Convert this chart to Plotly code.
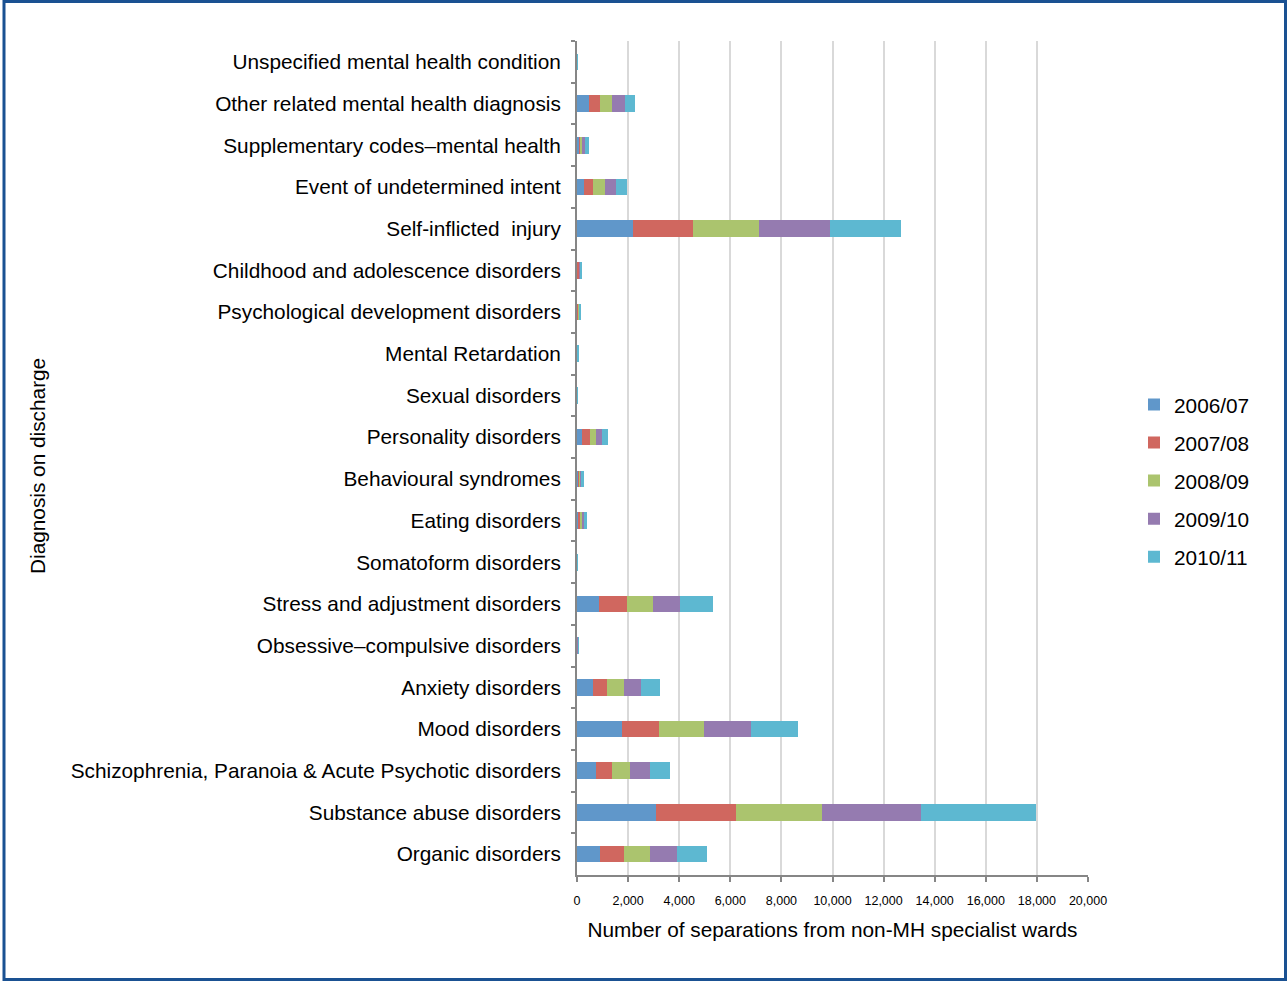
import plotly.graph_objects as go

categories = [
    "Unspecified mental health condition",
    "Other related mental health diagnosis",
    "Supplementary codes–mental health",
    "Event of undetermined intent",
    "Self-inflicted  injury",
    "Childhood and adolescence disorders",
    "Psychological development disorders",
    "Mental Retardation",
    "Sexual disorders",
    "Personality disorders",
    "Behavioural syndromes",
    "Eating disorders",
    "Somatoform disorders",
    "Stress and adjustment disorders",
    "Obsessive–compulsive disorders",
    "Anxiety disorders",
    "Mood disorders",
    "Schizophrenia, Paranoia & Acute Psychotic disorders",
    "Substance abuse disorders",
    "Organic disorders",
]

years = ["2006/07", "2007/08", "2008/09", "2009/10", "2010/11"]

v_2006_07 = [1, 470, 80, 290, 2200, 20, 20, 8, 1, 200, 40, 60, 1, 865, 10, 630, 1765, 730, 3100, 890]
v_2007_08 = [1, 420, 40, 330, 2340, 60, 25, 8, 1, 300, 50, 70, 1, 1085, 10, 560, 1450, 640, 3110, 955]
v_2008_09 = [1, 495, 90, 495, 2600, 35, 35, 8, 1, 260, 50, 75, 1, 1005, 10, 640, 1765, 705, 3385, 1005]
v_2009_10 = [1, 495, 105, 405, 2745, 35, 30, 8, 1, 220, 55, 85, 1, 1085, 10, 680, 1815, 770, 3870, 1070]
v_2010_11 = [1, 405, 145, 445, 2785, 45, 35, 8, 1, 235, 65, 90, 1, 1270, 10, 745, 1855, 810, 4510, 1150]

series = [v_2006_07, v_2007_08, v_2008_09, v_2009_10, v_2010_11]
colors = ["#6097CA", "#D0675F", "#ABC46E", "#957BB0", "#5DB8D1"]

FONT = "Liberation Sans, Arial, sans-serif"

fig = go.Figure()
for i, (name, vals) in enumerate(zip(years, series)):
    fig.add_trace(go.Bar(
        y=categories, x=vals, name=name, orientation="h",
        marker=dict(color=colors[i], line=dict(width=0)),
        legendgroup=name,
    ))

W, H = 1287, 981
L, R, T, B = 577, 1088, 41, 875


def px_x(p):
    return (p - L) / (R - L)


def px_y(p):
    return (B - p) / (B - T)


fig.update_layout(
    width=W, height=H,
    margin=dict(l=L, r=W - R, t=T, b=H - B),
    barmode="stack",
    bargap=0.6,
    paper_bgcolor="white",
    plot_bgcolor="white",
    font=dict(family=FONT, size=20.8, color="#000000"),
    showlegend=True,
    legend=dict(
        x=px_x(1134), xanchor="left",
        y=px_y(481), yanchor="middle",
        traceorder="grouped",
        tracegroupgap=8,
        font=dict(size=20.8),
        bgcolor="rgba(0,0,0,0)",
    ),
    xaxis=dict(
        range=[0, 20000],
        tickvals=list(range(0, 20001, 2000)),
        tickformat=",",
        tickfont=dict(size=12.5),
        showgrid=True, gridcolor="#D9D9D9", gridwidth=2,
        zeroline=False,
        showline=True, linecolor="#868686", linewidth=2,
        ticks="outside", ticklen=5, tickwidth=2, tickcolor="#868686",
        ticklabelstandoff=8,
        title=dict(text="Number of separations from non-MH specialist wards",
                   font=dict(size=20.8), standoff=15),
    ),
    yaxis=dict(
        autorange="reversed",
        showline=True, linecolor="#868686", linewidth=2,
        ticks="outside", ticklen=4, tickwidth=2, tickcolor="#868686",
        tickson="boundaries",
        showgrid=False,
        tickfont=dict(size=20.8),
        ticklabelstandoff=10,
    ),
    annotations=[dict(
        text="Diagnosis on discharge", textangle=-90,
        xref="paper", yref="paper", x=px_x(38), y=px_y(466),
        xanchor="center", yanchor="middle", showarrow=False,
        font=dict(size=20.8),
    )],
    shapes=[dict(
        type="rect", xref="paper", yref="paper",
        x0=px_x(4), x1=px_x(1285.5), y0=px_y(979.5), y1=px_y(1.5),
        line=dict(color="#1A5192", width=3), fillcolor="rgba(0,0,0,0)",
        layer="above",
    )],
)

fig.write_html(
    "out.html",
    config={"displayModeBar": False},
    post_script="document.body.style.margin='0';document.body.style.overflow='hidden';",
)
